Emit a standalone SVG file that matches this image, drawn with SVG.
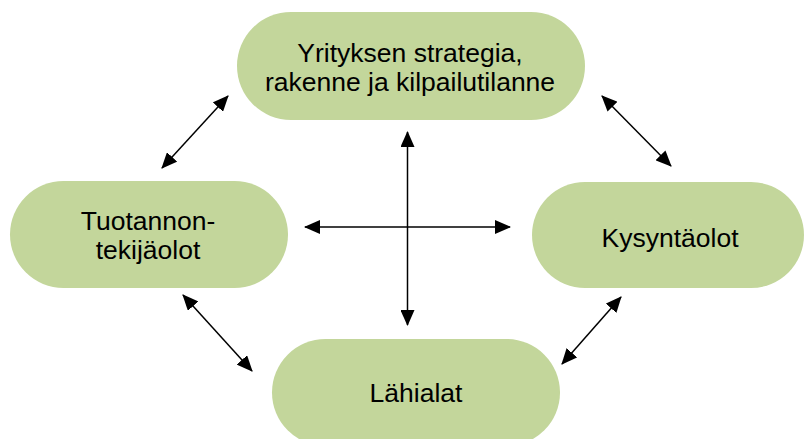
<svg xmlns="http://www.w3.org/2000/svg" width="804" height="439" viewBox="0 0 804 439">
<style>
.node{fill:#c3d69b;stroke:none}
.lbl{font-family:"Liberation Sans",Arial,sans-serif;font-size:26.5px;fill:#000;text-anchor:middle}
.conn{stroke:#000;stroke-width:1.5;fill:none;marker-start:url(#ah);marker-end:url(#ah)}
</style>
<defs>
<marker id="ah" viewBox="0 0 16 14" refX="15" refY="7" markerWidth="16" markerHeight="14" markerUnits="userSpaceOnUse" orient="auto-start-reverse">
<path d="M0,0 L16,7 L0,14 z" fill="#000"/>
</marker>
</defs>
<rect width="804" height="439" fill="#fff"/>
<g id="n-strategia">
<rect class="node" x="237" y="12" width="348" height="108" rx="54" ry="54"/>
<text class="lbl" x="410" y="62">Yrityksen strategia,</text>
<text class="lbl" x="410" y="91">rakenne ja kilpailutilanne</text>
</g>
<g id="n-tuotannontekijaolot">
<rect class="node" x="10" y="181" width="278" height="107" rx="53.5" ry="53.5"/>
<text class="lbl" x="148" y="230">Tuotannon-</text>
<text class="lbl" x="148" y="259">tekijäolot</text>
</g>
<g id="n-kysyntaolot">
<rect class="node" x="532" y="182" width="272" height="106" rx="53" ry="53"/>
<text class="lbl" x="670" y="247">Kysyntäolot</text>
</g>
<g id="n-lahialat">
<rect class="node" x="272" y="339" width="288" height="107" rx="53.5" ry="53.5"/>
<text class="lbl" x="416" y="402">Lähialat</text>
</g>
<g id="connectors">
<line class="conn" x1="162" y1="168" x2="228" y2="96"/>
<line class="conn" x1="602" y1="96" x2="671" y2="166"/>
<line class="conn" x1="183" y1="295" x2="252" y2="371"/>
<line class="conn" x1="621" y1="297" x2="562" y2="364"/>
<line class="conn" x1="305" y1="227" x2="510" y2="227"/>
<line class="conn" x1="407.5" y1="132" x2="407.5" y2="325"/>
</g>
</svg>
